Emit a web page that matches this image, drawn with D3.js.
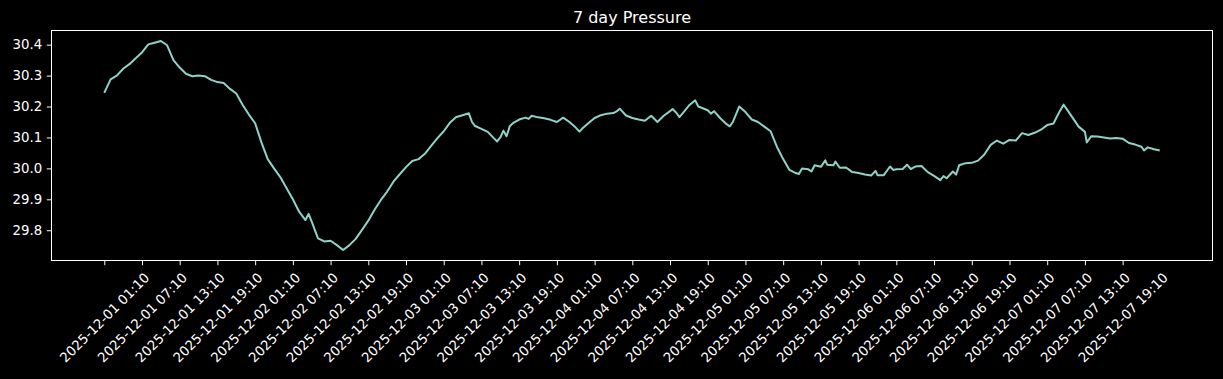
<!DOCTYPE html>
<html>
<head>
<meta charset="utf-8">
<script src="https://cdn.jsdelivr.net/npm/d3@7"></script>
<style>
  html, body { margin: 0; padding: 0; background: #000; }
  svg { display: block; }
  text { font-family: "DejaVu Sans", sans-serif; fill: #fff; }
</style>
</head>
<body>
<svg id="chart" width="1223" height="379"></svg>
<script>
// ---------------- data ----------------
const chartTitle = "7 day Pressure";
const startTime = "2025-12-01 01:10";

const hoursFromStart = [
  0, 1, 2, 3, 4, 5, 6, 7, 8, 9, 10, 11, 12, 13, 14, 15, 16, 17, 18, 19, 20, 21, 22, 23,
  24, 25, 26, 27, 28, 29, 30, 31, 32, 32.5, 33, 34, 35, 36, 37, 38, 39, 40, 41, 42, 43, 44, 45, 46, 47,
  48, 49, 50, 51, 52, 53, 54, 55, 56, 57, 58, 58.5, 59, 60, 61, 62, 62.5, 63, 63.5, 64, 64.5, 65, 66, 67, 67.5, 68, 69, 70, 71,
  72, 73, 74, 75, 75.6, 76, 77, 78, 79, 80, 81, 81.5, 82, 83, 84, 85, 86, 87, 88, 89, 90, 90.4, 91, 91.5, 92, 93, 94, 94.5, 95,
  96, 96.5, 97, 98, 99, 99.5, 100, 101, 102, 103, 104, 105, 106, 107, 108, 109, 110, 110.5, 111, 112, 112.5, 113, 114, 114.7, 115, 116, 116.3, 117, 118, 119,
  120, 121, 122, 122.7, 123, 124, 125, 125.5, 126, 127, 127.7, 128.3, 129, 130, 131, 132, 133, 133.5, 134, 135, 135.5, 136, 137, 138, 139, 140, 141, 142, 143,
  144, 145, 146, 147, 148, 149, 150, 151, 152, 152.6, 153, 154, 155, 156, 156.3, 157, 158, 159, 160, 161, 162, 163, 164, 165, 165.4, 166, 167, 167.9
];

// pressure (inHg)
const pressureInHg = [
  30.244, 30.288, 30.300, 30.322, 30.337, 30.356, 30.375, 30.401, 30.406, 30.412, 30.398, 30.350, 30.326, 30.306, 30.298, 30.300, 30.298, 30.286, 30.279, 30.276, 30.257, 30.242, 30.206, 30.174,
  30.146, 30.084, 30.030, 30.000, 29.972, 29.936, 29.900, 29.860, 29.833, 29.853, 29.828, 29.774, 29.764, 29.766, 29.752, 29.736, 29.752, 29.772, 29.801, 29.831, 29.866, 29.898, 29.925, 29.957, 29.981,
  30.004, 30.024, 30.030, 30.047, 30.073, 30.098, 30.120, 30.148, 30.166, 30.172, 30.178, 30.150, 30.137, 30.128, 30.118, 30.097, 30.087, 30.100, 30.122, 30.104, 30.136, 30.146, 30.158, 30.164, 30.160, 30.170, 30.165, 30.162, 30.157,
  30.150, 30.164, 30.150, 30.132, 30.119, 30.128, 30.146, 30.163, 30.172, 30.177, 30.179, 30.184, 30.193, 30.171, 30.163, 30.158, 30.154, 30.170, 30.150, 30.170, 30.185, 30.192, 30.180, 30.166, 30.178, 30.203, 30.220, 30.200, 30.196,
  30.188, 30.177, 30.185, 30.162, 30.143, 30.136, 30.150, 30.200, 30.182, 30.158, 30.150, 30.135, 30.120, 30.070, 30.030, 29.995, 29.985, 29.982, 30.000, 29.997, 29.990, 30.010, 30.005, 30.026, 30.012, 30.010, 30.022, 30.002, 30.003, 29.988,
  29.985, 29.980, 29.977, 29.992, 29.978, 29.978, 30.006, 29.995, 29.997, 29.998, 30.012, 29.998, 30.006, 30.008, 29.988, 29.976, 29.962, 29.975, 29.968, 29.990, 29.980, 30.010, 30.017, 30.018, 30.025, 30.045, 30.076, 30.090, 30.080,
  30.092, 30.090, 30.114, 30.108, 30.115, 30.125, 30.140, 30.145, 30.185, 30.206, 30.195, 30.165, 30.135, 30.118, 30.084, 30.104, 30.103, 30.100, 30.097, 30.098, 30.096, 30.082, 30.077, 30.070, 30.058, 30.068, 30.062, 30.058
];

const xTickLabels = [
  "2025-12-01 01:10", "2025-12-01 07:10", "2025-12-01 13:10", "2025-12-01 19:10",
  "2025-12-02 01:10", "2025-12-02 07:10", "2025-12-02 13:10", "2025-12-02 19:10",
  "2025-12-03 01:10", "2025-12-03 07:10", "2025-12-03 13:10", "2025-12-03 19:10",
  "2025-12-04 01:10", "2025-12-04 07:10", "2025-12-04 13:10", "2025-12-04 19:10",
  "2025-12-05 01:10", "2025-12-05 07:10", "2025-12-05 13:10", "2025-12-05 19:10",
  "2025-12-06 01:10", "2025-12-06 07:10", "2025-12-06 13:10", "2025-12-06 19:10",
  "2025-12-07 01:10", "2025-12-07 07:10", "2025-12-07 13:10", "2025-12-07 19:10"
];

const yTickValues = [29.8, 29.9, 30.0, 30.1, 30.2, 30.3, 30.4];

// ---------------- chart ----------------
const W = 1223, H = 379;
const frame = { left: 51.5, right: 1212.5, top: 30.5, bottom: 260.5 };
const fontSize = 13.3;
const tickLen = 4.7, tickPad = 4.7;
const lineColor = "#8dd3c7";

const parseT = d3.utcParse("%Y-%m-%d %H:%M");
const fmtT = d3.utcFormat("%Y-%m-%d %H:%M");
const t0 = parseT(startTime);
const data = hoursFromStart.map((h, i) => ({
  t: new Date(t0.getTime() + h * 3600e3),
  v: pressureInHg[i]
}));

const svg = d3.select("#chart");
svg.append("rect").attr("width", W).attr("height", H).attr("fill", "#000");

// x scale with 5% margins (matplotlib style)
const tExt = d3.extent(data, d => d.t.getTime());
const tSpan = tExt[1] - tExt[0];
const x = d3.scaleUtc()
  .domain([new Date(tExt[0] - 0.05 * tSpan), new Date(tExt[1] + 0.05 * tSpan)])
  .range([frame.left, frame.right]);

const vExt = d3.extent(data, d => d.v);
const vSpan = vExt[1] - vExt[0];
const y = d3.scaleLinear()
  .domain([vExt[0] - 0.05 * vSpan, vExt[1] + 0.05 * vSpan])
  .range([frame.bottom, frame.top]);

// line
const line = d3.line().x(d => x(d.t)).y(d => y(d.v));
svg.append("path")
  .datum(data)
  .attr("d", line)
  .attr("fill", "none")
  .attr("stroke", lineColor)
  .attr("stroke-width", 2)
  .attr("stroke-linejoin", "round")
  .attr("stroke-linecap", "butt");

// frame
svg.append("rect")
  .attr("x", frame.left).attr("y", frame.top)
  .attr("width", frame.right - frame.left).attr("height", frame.bottom - frame.top)
  .attr("fill", "none").attr("stroke", "#fff").attr("stroke-width", 1);

// y axis
const yAxis = svg.append("g")
  .attr("transform", `translate(${frame.left},0)`)
  .call(d3.axisLeft(y).tickValues(yTickValues).tickFormat(d3.format(".1f"))
    .tickSize(tickLen).tickPadding(tickPad));
yAxis.select(".domain").remove();
yAxis.selectAll(".tick line").attr("stroke", "#fff").attr("stroke-width", 1);
yAxis.selectAll(".tick text").attr("fill", "#fff")
  .style("font-family", "'DejaVu Sans', sans-serif").style("font-size", fontSize + "px");

// x axis
const xTicks = xTickLabels.map(parseT);
const xAxis = svg.append("g")
  .attr("transform", `translate(0,${frame.bottom})`)
  .call(d3.axisBottom(x).tickValues(xTicks).tickFormat(fmtT).tickSize(tickLen));
xAxis.select(".domain").remove();
xAxis.selectAll(".tick line").attr("stroke", "#fff").attr("stroke-width", 1);
xAxis.selectAll(".tick text")
  .attr("fill", "#fff")
  .style("font-family", "'DejaVu Sans', sans-serif").style("font-size", fontSize + "px")
  .attr("text-anchor", "middle")
  .attr("dominant-baseline", "central")
  .attr("x", 0).attr("y", 0).attr("dy", null)
  .each(function() {
    const L = this.getComputedTextLength();
    const boxH = (L + 1.164 * fontSize) * Math.SQRT1_2;
    const cy = tickLen + tickPad + boxH / 2;
    d3.select(this).attr("transform", `translate(0,${cy}) rotate(-45)`);
  });

// title
svg.append("text")
  .attr("x", (frame.left + frame.right) / 2)
  .attr("y", 22.5)
  .attr("text-anchor", "middle")
  .style("font-size", "16px")
  .text(chartTitle);
</script>
</body>
</html>
